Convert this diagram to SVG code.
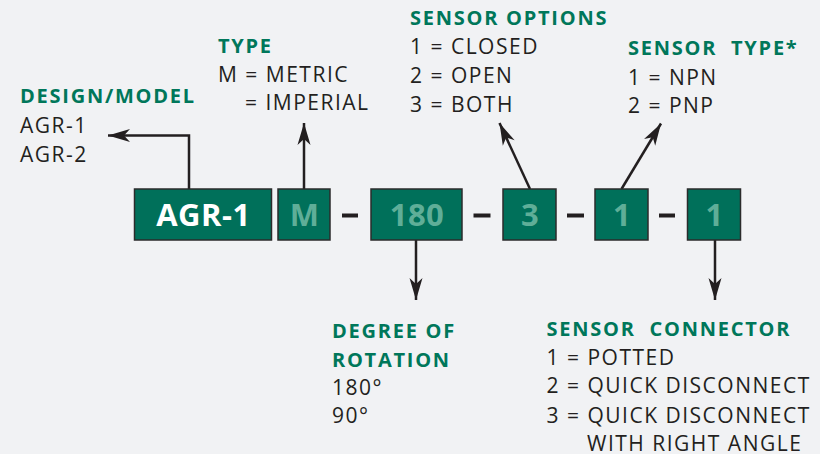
<svg xmlns="http://www.w3.org/2000/svg" width="820" height="454" viewBox="0 0 820 454">
<style>
.h{font-family:"Open Sans","Liberation Sans",sans-serif;font-weight:700;font-size:20px;letter-spacing:1.75px;fill:#00775a}
.t{font-family:"Open Sans","Liberation Sans",sans-serif;font-size:21px;letter-spacing:1.5px;fill:#231f20}
.box{fill:#00705a;stroke:#2b2b2b;stroke-width:1.5}
.bt{font-family:"Open Sans","Liberation Sans",sans-serif;font-weight:700;font-size:31px;letter-spacing:0.5px;fill:#5fae98;text-anchor:middle}
.dash{stroke:#231f20;stroke-width:4}
.c{fill:none;stroke:#231f20;stroke-width:2.5}
</style>
<defs>
<marker id="ah" markerUnits="userSpaceOnUse" markerWidth="30" markerHeight="20" viewBox="-24 -10 26 20" refX="0" refY="0" orient="auto">
<path d="M0,0 L-22,-6.5 L-16,0 L-22,6.5 Z" fill="#231f20"/>
</marker>
</defs>
<rect width="820" height="454" fill="#f1f2f4"/>
<g id="connectors">
<path class="c" d="M189,189 V135.5 H108" marker-end="url(#ah)"/>
<path class="c" d="M304,189 V123" marker-end="url(#ah)"/>
<path class="c" d="M416,240 V300" marker-end="url(#ah)"/>
<path class="c" d="M530,189 L499.5,123" marker-end="url(#ah)"/>
<path class="c" d="M621.5,189 L661,123.5" marker-end="url(#ah)"/>
<path class="c" d="M715,240 V300" marker-end="url(#ah)"/>
</g>
<g id="code">
<g id="box-agr"><rect class="box" x="134.5" y="189" width="137" height="51"/><text class="bt" x="203.5" y="226" style="fill:#ffffff">AGR-1</text></g>
<g id="box-m"><rect class="box" x="278" y="189" width="52" height="51"/><text class="bt" x="304.5" y="226">M</text></g>
<line class="dash" x1="342" y1="215.5" x2="358" y2="215.5"/>
<g id="box-180"><rect class="box" x="371" y="189" width="91" height="51"/><text class="bt" x="417" y="226">180</text></g>
<line class="dash" x1="473.5" y1="215.5" x2="490.5" y2="215.5"/>
<g id="box-3"><rect class="box" x="503" y="189" width="53" height="51"/><text class="bt" x="530" y="226">3</text></g>
<line class="dash" x1="567" y1="215.5" x2="584" y2="215.5"/>
<g id="box-1a"><rect class="box" x="595" y="189" width="53" height="51"/><text class="bt" x="622" y="226">1</text></g>
<line class="dash" x1="659" y1="215.5" x2="675" y2="215.5"/>
<g id="box-1b"><rect class="box" x="687.5" y="189" width="53" height="51"/><text class="bt" x="714.5" y="226">1</text></g>
</g>
<g id="design-model">
<text class="h" x="20" y="102.7">DESIGN/MODEL</text>
<text class="t" x="20" y="133.3">AGR-1</text>
<text class="t" x="20" y="161.7">AGR-2</text>
</g>
<g id="type">
<text class="h" x="218" y="52.7">TYPE</text>
<text class="t" x="218" y="81.7">M = METRIC</text>
<text class="t" x="245" y="110">= IMPERIAL</text>
</g>
<g id="sensor-options">
<text class="h" x="410" y="25">SENSOR OPTIONS</text>
<text class="t" x="410" y="54">1 = CLOSED</text>
<text class="t" x="410" y="83.3">2 = OPEN</text>
<text class="t" x="410" y="111.7">3 = BOTH</text>
</g>
<g id="sensor-type">
<text class="h" x="628" y="55" xml:space="preserve">SENSOR  TYPE*</text>
<text class="t" x="628" y="85">1 = NPN</text>
<text class="t" x="628" y="113.3">2 = PNP</text>
</g>
<g id="degree">
<text class="h" x="332" y="338.3">DEGREE OF</text>
<text class="h" x="332" y="366.7">ROTATION</text>
<text class="t" x="332" y="395">180°</text>
<text class="t" x="332" y="423.3">90°</text>
</g>
<g id="sensor-connector">
<text class="h" x="546.5" y="336" xml:space="preserve">SENSOR  CONNECTOR</text>
<text class="t" x="546.5" y="365">1 = POTTED</text>
<text class="t" x="546.5" y="393.3">2 = QUICK DISCONNECT</text>
<text class="t" x="546.5" y="422.7">3 = QUICK DISCONNECT</text>
<text class="t" x="587" y="451.3">WITH RIGHT ANGLE</text>
</g>
</svg>
